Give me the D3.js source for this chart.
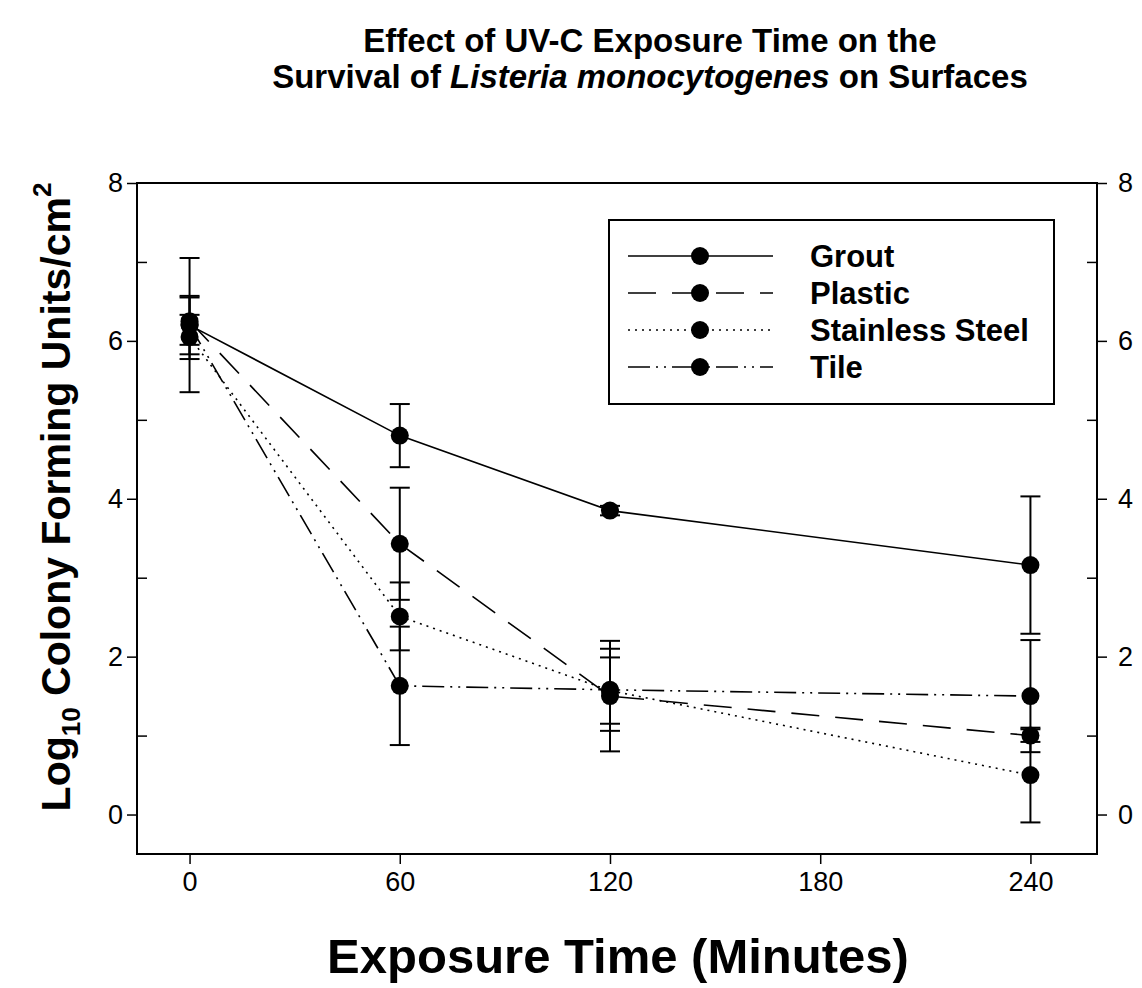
<!DOCTYPE html>
<html lang="en">
<head>
<meta charset="UTF-8">
<script src="https://d3js.org/d3.v7.min.js"></script>
<title>UV-C Exposure</title>
<style>
  body { margin: 0; background: white; }
  svg { display: block; font-family: "Liberation Sans", Arial, sans-serif; }
</style>
</head>
<body>
<svg id="chart"></svg>
<script>
// data
const times = [0, 60, 120, 240];
const seriesNames = ["Grout", "Plastic", "Stainless Steel", "Tile"];
const groutMean = [6.2, 4.8, 3.85, 3.16];
const groutErr = [0.37, 0.4, 0.06, 0.87];
const plasticMean = [6.25, 3.43, 1.5, 1.0];
const plasticErr = [0.3, 0.71, 0.7, 0.08];
const steelMean = [6.05, 2.51, 1.57, 0.5];
const steelErr = [0.28, 0.43, 0.42, 0.6];
const tileMean = [6.2, 1.63, 1.58, 1.5];
const tileErr = [0.85, 0.75, 0.52, 0.71];
const xTicks = [0, 60, 120, 180, 240];
const yTicks = [0, 2, 4, 6, 8];
const yMinor = [1, 3, 5, 7];

const w = 1142, h = 988;
const pLeft = 137, pRight = 1097, pTop = 183, pBottom = 854;

const svg = d3.select("#chart").attr("width", w).attr("height", h);

const x = d3.scaleLinear().domain([-15, 259]).range([pLeft, pRight]);
const y = d3.scaleLinear().domain([-0.5, 8]).range([pBottom, pTop]);

const dashes = ["none", "28,16", "2,5", "22,6,2,6,2,6"];
const series = [
  {mean: groutMean, err: groutErr},
  {mean: plasticMean, err: plasticErr},
  {mean: steelMean, err: steelErr},
  {mean: tileMean, err: tileErr}
].map((s, i) => ({name: seriesNames[i], dash: dashes[i],
  pts: times.map((t, j) => ({t: t, v: s.mean[j], e: s.err[j]}))}));

// title
const title = svg.append("text")
  .attr("text-anchor", "middle").style("font-size", "33px").style("font-weight", "bold");
title.append("tspan").attr("x", 650).attr("y", 52).text("Effect of UV-C Exposure Time on the");
const t2 = title.append("tspan").attr("x", 650).attr("y", 88);
t2.append("tspan").text("Survival of ");
t2.append("tspan").style("font-style", "italic").text("Listeria monocytogenes");
t2.append("tspan").text(" on Surfaces");

// frame
svg.append("rect").attr("x", pLeft).attr("y", pTop)
  .attr("width", pRight - pLeft).attr("height", pBottom - pTop)
  .attr("fill", "none").attr("stroke", "black").attr("stroke-width", 2);

// axes
const xAxis = d3.axisBottom(x).tickValues(xTicks).tickSize(10).tickPadding(8);
svg.append("g").attr("transform", `translate(0,${pBottom})`).call(xAxis);

const yLeft = d3.axisLeft(y).tickValues(yTicks).tickSize(10).tickPadding(4);
svg.append("g").attr("transform", `translate(${pLeft},0)`).call(yLeft);
svg.append("g").attr("transform", `translate(${pLeft},0)`)
  .call(d3.axisRight(y).tickValues(yMinor).tickSize(10).tickFormat(""));

const yRight = d3.axisRight(y).tickValues(yTicks).tickSize(10).tickPadding(11);
svg.append("g").attr("transform", `translate(${pRight},0)`).call(yRight);
svg.append("g").attr("transform", `translate(${pRight},0)`)
  .call(d3.axisLeft(y).tickValues(yMinor).tickSize(10).tickFormat(""));

svg.selectAll(".domain").remove();
svg.selectAll(".tick line").attr("stroke-width", 1.5);
svg.selectAll(".tick text").style("font-size", "27px")
  .style("font-family", "'Liberation Sans', Arial, sans-serif").attr("fill", "black");

// axis titles
svg.append("text").attr("x", 618).attr("y", 973).attr("text-anchor", "middle")
  .style("font-size", "49px").style("font-weight", "bold").text("Exposure Time (Minutes)");

const yt = svg.append("text").attr("transform", "translate(70,497) rotate(-90)")
  .attr("text-anchor", "middle").style("font-size", "41px").style("font-weight", "bold");
yt.append("tspan").text("Log");
yt.append("tspan").attr("dy", 10).style("font-size", "26px").text("10");
yt.append("tspan").attr("dy", -10).text(" Colony Forming Units/cm");
yt.append("tspan").attr("dy", -19).style("font-size", "26px").text("2");

// error bars
const capW = 10;
series.forEach(s => {
  const g = svg.append("g");
  s.pts.forEach(p => {
    g.append("line").attr("x1", x(p.t)).attr("x2", x(p.t))
      .attr("y1", y(p.v + p.e)).attr("y2", y(p.v - p.e))
      .attr("stroke", "black").attr("stroke-width", 2);
    [p.v + p.e, p.v - p.e].forEach(v => {
      g.append("line").attr("x1", x(p.t) - capW).attr("x2", x(p.t) + capW)
        .attr("y1", y(v)).attr("y2", y(v)).attr("stroke", "black").attr("stroke-width", 2);
    });
  });
});

// lines and points
const line = d3.line().x(d => x(d.t)).y(d => y(d.v));
series.forEach(s => {
  svg.append("path").datum(s.pts).attr("d", line)
    .attr("fill", "none").attr("stroke", "black").attr("stroke-width", 1.6)
    .attr("stroke-dasharray", s.dash);
  svg.selectAll(null).data(s.pts).enter().append("circle")
    .attr("cx", d => x(d.t)).attr("cy", d => y(d.v)).attr("r", 9).attr("fill", "black");
});

// legend
svg.append("rect").attr("x", 609).attr("y", 220).attr("width", 445).attr("height", 184)
  .attr("fill", "white").attr("stroke", "black").attr("stroke-width", 2);
const lg = svg.append("g").selectAll("g").data(series).enter().append("g")
  .attr("transform", (d, i) => `translate(0,${256 + i * 37})`);
lg.append("line").attr("x1", 628).attr("x2", 773).attr("y1", 0).attr("y2", 0)
  .attr("stroke", "black").attr("stroke-width", 1.6)
  .attr("stroke-dasharray", d => d.dash);
lg.append("circle").attr("cx", 700).attr("cy", 0).attr("r", 9).attr("fill", "black");
lg.append("text").attr("x", 810).attr("y", 11).style("font-size", "31px")
  .style("font-weight", "bold").text(d => d.name);
</script>
</body>
</html>
